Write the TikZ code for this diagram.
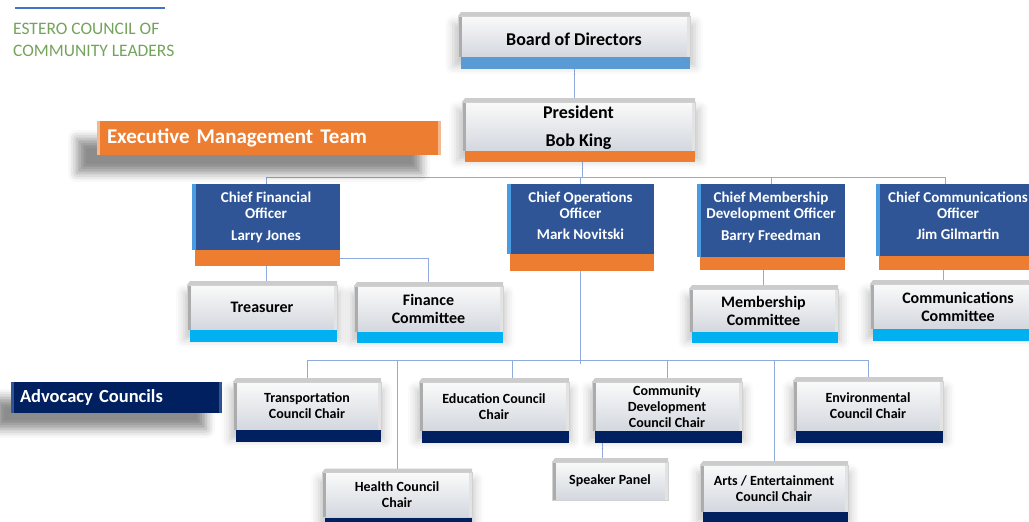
\documentclass[tikz,border=0pt]{standalone}
\usepackage{fontspec}
\setmainfont{Carlito}
\usetikzlibrary{backgrounds,shadows.blur}

\definecolor{navyface}{HTML}{2F5597}
\definecolor{navyedge}{HTML}{4A9BE0}
\definecolor{barorange}{HTML}{ED7D31}
\definecolor{barsky}{HTML}{5B9BD5}
\definecolor{barcyan}{HTML}{00B0F0}
\definecolor{barnavy}{HTML}{002060}
\definecolor{linkblue}{HTML}{8FAADC}
\definecolor{logogreen}{HTML}{74A35C}
\definecolor{logoblue}{HTML}{4472C4}
\definecolor{facebot}{HTML}{D3D7DE}
\definecolor{glowblue}{HTML}{9DB8E8}
\definecolor{glowpeach}{HTML}{F6B48A}

\tikzset{
  face/.style = {rectangle, inner sep=0pt, outer sep=0pt, align=center,
                 minimum width=#1, top color=gray!4, bottom color=facebot,
                 draw=gray!35, font=\bfseries,
                 path picture={\fill[gray!65] (path picture bounding box.north west)
                   rectangle ([xshift=4pt]path picture bounding box.south west);
                   \fill[gray!22] (path picture bounding box.north east)
                   rectangle ([xshift=-3pt]path picture bounding box.south east);}},
  face/.default = 150pt,
  chief/.style = {rectangle, inner sep=0pt, outer sep=0pt, align=center,
                  minimum width=#1, fill=navyface, text=white,
                  font=\bfseries\fontsize{15}{16}\selectfont,
                  path picture={\fill[navyedge] (path picture bounding box.north west)
                   rectangle ([xshift=4pt]path picture bounding box.south west);}},
  chief/.default = 148pt,
  banner/.style = {rectangle, inner ysep=0pt, align=left, text=white,
                   path picture={
                     \fill[#1] (path picture bounding box.north west)
                       rectangle ([xshift=3pt]path picture bounding box.south west);
                     \fill[#1] (path picture bounding box.north east)
                       rectangle ([xshift=-3pt]path picture bounding box.south east);}},
  glow/.style = {blur shadow={shadow xshift=0pt, shadow yshift=-8pt, shadow scale=1.04,
                 shadow blur radius=8pt, shadow opacity=22, fill=#1}},
  glow/.default = glowblue,
  boardfont/.style = {font=\bfseries\fontsize{18}{20}\selectfont},
  unitfont/.style = {font=\bfseries\fontsize{16}{18}\selectfont},
  councilfont/.style = {font=\bfseries\fontsize{14}{16}\selectfont},
  link/.style = {draw=linkblue, line width=1pt}
}

% grey bevel on top of a box
\newcommand\topedge[1]{%
  \fill[gray!40] (#1.north west) -- ([xshift=3pt,yshift=4pt]#1.north west)
    -- ([yshift=4pt]#1.north east) -- (#1.north east) -- cycle;}
% coloured bar under a box: name, colour, height
\newcommand\basebar[3]{%
  \fill[#2] ([xshift=3pt]#1.south west) rectangle ([yshift=-#3]#1.south east);}

\begin{document}
\begin{tikzpicture}[x=1pt, y=-1pt]
	\useasboundingbox (0,0) rectangle (1029,522);
	\def\barh{12pt}

	% Logo
	\draw[logoblue, line width=1.2pt] (15,8) -- (165,8);
	\node[anchor=west, align=left, inner sep=0pt, text=logogreen,
	      font=\fontsize{17.5}{22}\selectfont] (logo) at (13,40) {ESTERO COUNCIL OF\\COMMUNITY LEADERS};

	% Board and president
	\node[face=232pt, minimum height=41pt, boardfont, text height=18pt, glow=glowpeach] (board) at (574,36.5) {Board of Directors};
	\topedge{board} \basebar{board}{barsky}{\barh}
	\node[face=233pt, minimum height=49pt, boardfont, text depth=0pt, glow=glowpeach] (pres) at (578.5,126.5) {President\\[8pt]Bob King};
	\topedge{pres} \basebar{pres}{barorange}{11pt}

	% Banners
	\node[banner=barorange!55, fill=barorange, text width=324pt, inner xsep=10pt, minimum height=34pt,
	      font=\bfseries\fontsize{21}{24}\selectfont,
	      blur shadow={shadow xshift=-20pt, shadow yshift=-18pt, shadow blur radius=9pt, shadow opacity=45}]
	      (emt) at (269,138) {Executive Management Team};
	\node[banner=navyface, fill=barnavy, text width=193pt, inner xsep=9pt, minimum height=31pt,
	      font=\bfseries\fontsize{18.5}{20}\selectfont,
	      blur shadow={shadow xshift=-16pt, shadow yshift=-16pt, shadow blur radius=9pt, shadow opacity=45}]
	      (adv) at (116.5,397.5) {Advocacy Councils};

	% Chiefs
	\node[chief, minimum height=66pt] (cfo) at (266,217) {Chief Financial\\Officer\\[6pt]Larry Jones};
	\node[chief=147pt, minimum height=70pt, text depth=6pt] (coo) at (580.5,219) {Chief Operations\\Officer\\[5pt]Mark Novitski};
	\node[chief, minimum height=73pt, text depth=8.5pt] (cmdo) at (771,220.5) {Chief Membership\\Development Officer\\[6pt]Barry Freedman};
	\node[chief=164pt, minimum height=72pt, text depth=8pt] (cco) at (958,220) {Chief Communications\\Officer\\[5pt]Jim Gilmartin};
	\basebar{cfo}{barorange}{16pt}
	\basebar{coo}{barorange}{17pt}
	\basebar{cmdo}{barorange}{13pt}
	\basebar{cco}{barorange}{14pt}

	% Committees
	\node[face, minimum height=45pt, unitfont, glow] (treas) at (262,307.5) {Treasurer};
	\node[face=149pt, minimum height=46pt, unitfont, glow] (fincom) at (428.5,309) {Finance\\Committee};
	\node[face=149pt, minimum height=43pt, unitfont, glow] (memcom) at (763.5,310.5) {Membership\\Committee};
	\node[face=176pt, minimum height=45pt, unitfont, glow] (comcom) at (958,306.5) {Communications\\Committee};
	\topedge{treas} \basebar{treas}{barcyan}{\barh}
	\topedge{fincom} \basebar{fincom}{barcyan}{11pt}
	\topedge{memcom} \basebar{memcom}{barcyan}{11pt}
	\topedge{comcom} \basebar{comcom}{barcyan}{\barh}

	% Councils
	\node[face=148pt, minimum height=48pt, councilfont, glow] (trans) at (307,406) {Transportation\\Council Chair};
	\node[face, minimum height=49pt, councilfont, glow] (edu) at (494,406.5) {Education Council\\Chair};
	\node[face, minimum height=49pt, councilfont, glow] (comdev) at (667,406.5) {Community\\Development\\Council Chair};
	\node[face, minimum height=50pt, councilfont, glow] (env) at (868,406) {Environmental\\Council Chair};
	\node[face=116pt, minimum height=38pt, councilfont] (speaker) at (610,481) {Speaker Panel};
	\node[face, minimum height=45pt, councilfont, glow] (health) at (397,495) {Health Council\\Chair};
	\node[face=148pt, minimum height=47pt, councilfont, glow] (arts) at (774,488.5) {Arts / Entertainment\\Council Chair};
	\topedge{trans} \basebar{trans}{barnavy}{\barh}
	\topedge{edu} \basebar{edu}{barnavy}{\barh}
	\topedge{comdev} \basebar{comdev}{barnavy}{\barh}
	\topedge{env} \basebar{env}{barnavy}{\barh}
	\topedge{speaker}
	\topedge{health} \basebar{health}{barnavy}{\barh}
	\topedge{arts} \basebar{arts}{barnavy}{\barh}

	% Lines
	\coordinate (topbus) at (0,177);
	\coordinate (lowbus) at (0,360);
	\begin{scope}[on background layer]
	\draw[link] (board.south) -- (board.south |- pres.north);
	\draw[link] ([xshift=4pt]pres.south) -- ([xshift=4pt]pres.south |- topbus);
	\draw[link] (cfo.north) |- ([xshift=-13pt]cco.north |- topbus) -- ([xshift=-13pt]cco.north);
	\draw[link] (coo.north) -- (coo.north |- topbus);
	\draw[link] (cmdo.north) -- (cmdo.north |- topbus);
	\draw[link] (cfo.south) -- (cfo.south |- treas.north);
	\draw[link] ([yshift=-8pt]cfo.south east) -| (fincom.north);
	\draw[link] (memcom.north) -- (memcom.north |- cmdo.south);
	\draw[link] ([xshift=-15pt]comcom.north) -- ([xshift=-15pt]comcom.north |- cco.south);
	\draw[link] (coo.south) -- ([yshift=-4pt]coo.south |- lowbus);
	\draw[link] (trans.north) |- (env.north |- lowbus) -- (env.north);
	\draw[link] (health.north) -- (health.north |- lowbus);
	\draw[link] ([xshift=18pt]edu.north) -- ([xshift=18pt]edu.north |- lowbus);
	\draw[link] (comdev.north) -- (comdev.north |- lowbus);
	\draw[link] (arts.north) -- (arts.north |- lowbus);
	\draw[link] ([xshift=-8pt]speaker.north) -- ([xshift=-8pt]speaker.north |- comdev.south);
	\end{scope}
\end{tikzpicture}
\end{document}
